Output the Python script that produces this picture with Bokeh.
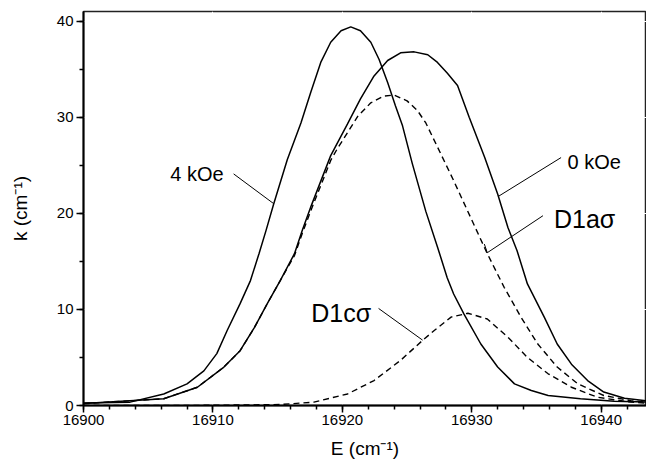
from bokeh.plotting import figure
from bokeh.models import Range1d, SingleIntervalTicker, BasicTickFormatter
from bokeh.core.properties import value
from bokeh.embed import file_html
from bokeh.resources import INLINE

# ---- data ----
E_4koe = [16900, 16903.6, 16906.2, 16908.0, 16909.3, 16910.3, 16911.1, 16912.1, 16912.9,
          16913.56, 16914.1, 16914.7, 16915.75, 16916.8, 16917.56, 16918.33, 16919.1, 16919.9,
          16920.65, 16921.4, 16922.2, 16922.84, 16923.5, 16924.1, 16924.65, 16925.4, 16926.45,
          16927.35, 16928.1, 16928.6, 16929.4, 16930.7, 16932.0, 16933.3, 16934.6, 16935.9,
          16938.4, 16941.0, 16943.5]
k_4koe = [0.25, 0.35, 1.2, 2.25, 3.6, 5.4, 7.8, 10.6, 13.0,
          15.8, 18.2, 21.0, 25.6, 29.4, 32.6, 35.7, 37.8, 39.0,
          39.4, 39.0, 37.8, 36.0, 33.6, 31.2, 29.1, 25.2, 20.2,
          16.5, 13.3, 11.6, 9.5, 6.4, 4.0, 2.25, 1.56, 1.04,
          0.7, 0.45, 0.35]

E_0koe = [16900, 16906.2, 16908.8, 16910.85, 16912.1, 16913.2, 16914.2, 16915.2, 16916.3,
          16916.9, 16917.6, 16919.1, 16920.4, 16921.4, 16922.45, 16923.5, 16924.5, 16925.55,
          16926.6, 16927.35, 16928.1, 16928.9, 16929.8, 16931.0, 16932.0, 16932.8, 16933.5,
          16934.3, 16935.6, 16936.6, 16937.7, 16938.95, 16940.2, 16941.8, 16943.5]
k_0koe = [0.2, 0.7, 1.9, 4.0, 5.7, 8.1, 10.6, 13.0, 15.8,
          18.2, 20.8, 26.0, 29.3, 31.9, 34.3, 35.9, 36.7, 36.8,
          36.5, 35.7, 34.6, 33.3, 30.0, 25.8, 22.0, 18.5, 16.1,
          12.65, 9.2, 6.4, 4.3, 2.6, 1.4, 0.76, 0.5]

E_d1a = [16900, 16906.2, 16908.8, 16910.85, 16912.1, 16913.2, 16914.2, 16915.2, 16916.3,
         16916.9, 16917.6, 16919.1, 16919.6, 16921.2, 16922.2, 16923.2, 16924.0, 16925.0,
         16925.8, 16926.45, 16927.35, 16928.6, 16929.9, 16931.2, 16932.5, 16933.8, 16935.1,
         16936.6, 16938.2, 16940.2, 16942.3, 16943.5]
k_d1a = [0.2, 0.7, 1.9, 4.0, 5.7, 8.1, 10.6, 13.0, 15.6,
         17.9, 20.4, 25.5, 26.7, 30.1, 31.5, 32.2, 32.3, 31.7,
         30.7, 29.4, 26.9, 23.4, 19.6, 15.8, 12.3, 9.2, 6.4,
         4.0, 2.25, 1.04, 0.5, 0.35]

E_d1c = [16900, 16910, 16915.2, 16917.8, 16920.4, 16922.45, 16924.5, 16926.3, 16927.1,
         16928.4, 16929.7, 16931.2, 16932.8, 16934.3, 16935.9, 16937.7, 16939.7, 16942.3, 16943.5]
k_d1c = [0.0, 0.02, 0.1, 0.35, 1.2, 2.6, 4.7, 6.9, 7.8,
         9.2, 9.6, 9.0, 7.1, 5.0, 3.3, 1.9, 0.86, 0.35, 0.25]

x_ticks_interval = 10
y_ticks_interval = 10

FONT = "Liberation Sans"

p = figure(width=646, height=467, output_backend="svg", toolbar_location=None,
           x_range=Range1d(16900, 16943.5), y_range=Range1d(0, 41),
           min_border_left=83, min_border_top=11, min_border_right=0, min_border_bottom=62)
p.outline_line_color = "#222222"
p.outline_line_width = 1.5
# grids stay drawn (white on white) so that the axis ticks are rendered
p.xgrid.grid_line_color = "white"
p.ygrid.grid_line_color = "white"

xa = p.xaxis[0]
ya = p.yaxis[0]
xa.ticker = SingleIntervalTicker(interval=x_ticks_interval, num_minor_ticks=5)
ya.ticker = SingleIntervalTicker(interval=y_ticks_interval, num_minor_ticks=2)
xa.formatter = BasicTickFormatter(use_scientific=False)
for ax in (xa, ya):
    ax.axis_line_width = 2
    ax.axis_line_color = "black"
    ax.major_tick_line_color = "black"
    ax.minor_tick_line_color = "black"
    ax.major_tick_line_width = 1.5
    ax.minor_tick_line_width = 1.5
    ax.major_tick_in = 0
    ax.major_tick_out = 7
    ax.minor_tick_in = 0
    ax.minor_tick_out = 4
    ax.major_label_text_font = FONT
    ax.major_label_text_font_size = "15px"
    ax.major_label_text_color = "black"
    ax.axis_label_text_font = FONT
    ax.axis_label_text_font_size = "19px"
    ax.axis_label_text_font_style = "normal"
    ax.axis_label_text_color = "black"

xa.axis_label = "E (cm⁻¹)"
ya.axis_label = "k (cm⁻¹)"
xa.major_label_standoff = 2
xa.axis_label_standoff = 10
ya.major_label_standoff = 3
ya.axis_label_standoff = 23

# curves
p.line(E_4koe, k_4koe, line_color="black", line_width=1.5)
p.line(E_0koe, k_0koe, line_color="black", line_width=1.5)
p.line(E_d1a, k_d1a, line_color="black", line_width=1.4, line_dash="6 4")
p.line(E_d1c, k_d1c, line_color="black", line_width=1.4, line_dash="6 4")

# annotations: labels + leader lines
p.text(x=[16906.7, 16937.4], y=[24.1, 25.3], text=["4 kOe", "0 kOe"],
       text_font=value(FONT), text_font_size="20px", text_color="black",
       text_baseline="alphabetic", text_align="left")
p.text(x=[16936.35, 16917.6], y=[19.4, 9.6], text=["D1aσ", "D1cσ"],
       text_font=value(FONT), text_font_size="25px", text_color="black",
       text_baseline="alphabetic", text_align="left")
p.segment(x0=[16911.6, 16936.9, 16935.5, 16931.2, 16922.8],
          y0=[24.1, 25.8, 19.75, 15.9, 10.1],
          x1=[16914.7, 16932.1, 16931.2, 16930.97, 16926.2],
          y1=[21.0, 21.8, 15.9, 16.8, 6.8],
          line_color="black", line_width=1)

open("out.html", "w").write(file_html(p, INLINE))
